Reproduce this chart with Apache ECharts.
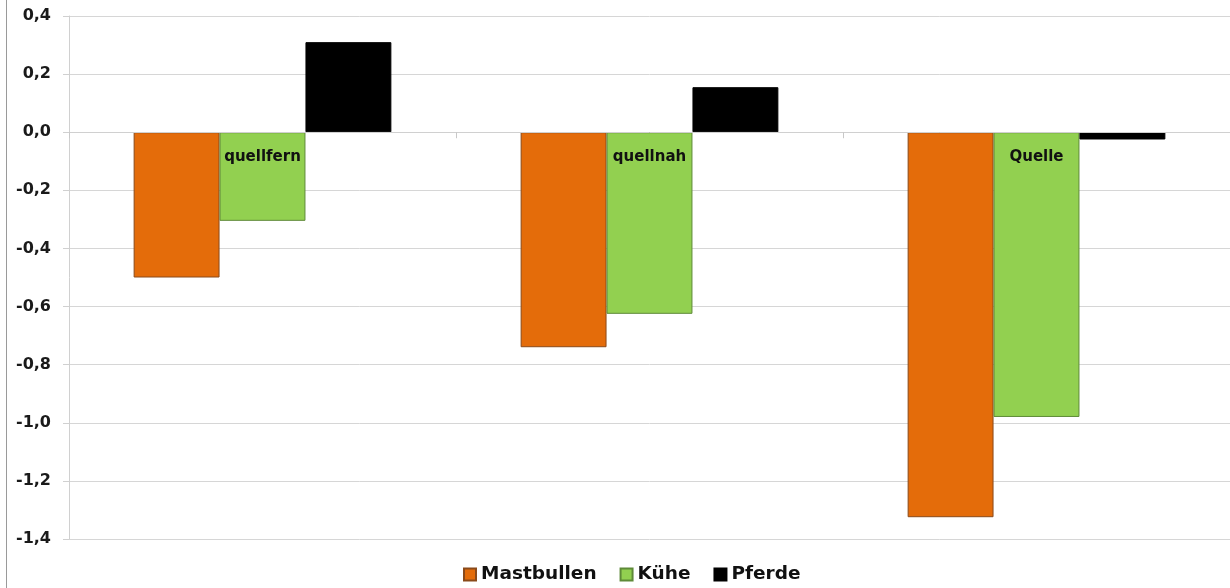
<!DOCTYPE html>
<html>
<head>
<meta charset="utf-8">
<script src="https://cdn.jsdelivr.net/npm/echarts@6/dist/echarts.min.js"></script>
<style>
  html, body { margin: 0; padding: 0; background: #fff; }
  #chart { width: 1230px; height: 588px; }
</style>
</head>
<body>
<div id="chart"></div>
<script>
// Standorte (Entfernung zur Quelle)
const categories = ['quellfern', 'quellnah', 'Quelle'];
// Werte je Tierart
const mastbullen = [-0.50, -0.74, -1.325];
const kuehe = [-0.305, -0.625, -0.98];
const pferde = [0.31, 0.155, -0.025];
// Achsenbereich
const yMin = -1.4, yMax = 0.4, yStep = 0.2;

const FONT = '"DejaVu Sans", sans-serif';
const chart = echarts.init(document.getElementById('chart'), null, { renderer: 'canvas' });

const fmt = v => v.toFixed(1).replace('.', ',');

chart.setOption({
  animation: false,
  backgroundColor: '#ffffff',
  textStyle: { fontFamily: FONT },
  grid: { left: 69, right: 0, top: 16, bottom: 49, containLabel: false },
  legend: {
    bottom: -1,
    left: 458,
    itemWidth: 12,
    itemHeight: 12,
    itemGap: 23,
    icon: 'rect',
    textStyle: { fontFamily: FONT, fontWeight: 'bold', fontSize: 18.5, color: '#111' },
    data: ['Mastbullen', 'Kühe', 'Pferde']
  },
  xAxis: {
    type: 'category',
    data: categories,
    axisLine: { onZero: true, lineStyle: { color: '#d0d0d0', width: 1 } },
    axisTick: { show: true, length: 6, inside: false, lineStyle: { color: '#c8c8c8' } },
    axisLabel: { show: false },
    z: 10
  },
  yAxis: {
    type: 'value',
    min: yMin, max: yMax, interval: yStep,
    axisLine: { show: true, lineStyle: { color: '#d0d0d0' } },
    axisTick: { show: true, length: 6, lineStyle: { color: '#d0d0d0' } },
    splitLine: { lineStyle: { color: '#d6d6d6', width: 1 } },
    axisLabel: {
      margin: 18, color: '#1a1a1a', fontFamily: FONT, fontWeight: 'bold', fontSize: 16,
      formatter: fmt
    }
  },
  graphic: [{
    type: 'line',
    shape: { x1: 6.5, y1: 0, x2: 6.5, y2: 588 },
    style: { stroke: '#9a9a9a', lineWidth: 1 }
  }],
  series: [
    {
      name: 'Mastbullen', type: 'bar', data: mastbullen,
      barGap: '0%', barCategoryGap: '33.4%',
      itemStyle: { color: '#E46C0A', borderColor: '#8a4a1a', borderWidth: 1 }
    },
    {
      name: 'Kühe', type: 'bar', data: kuehe,
      itemStyle: { color: '#92D050', borderColor: '#5e8a38', borderWidth: 1 },
      // Standortname im Balken unter der Nulllinie
      label: {
        show: true, position: 'insideTop', distance: 17,
        formatter: p => p.name,
        color: '#111', fontFamily: FONT, fontWeight: 'bold', fontSize: 15
      }
    },
    {
      name: 'Pferde', type: 'bar', data: pferde,
      itemStyle: { color: '#000000', borderColor: '#000000', borderWidth: 1 }
    }
  ]
});
</script>
</body>
</html>
